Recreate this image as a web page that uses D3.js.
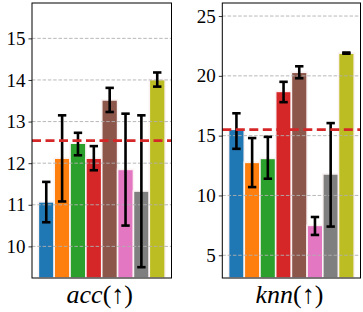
<!DOCTYPE html>
<html>
<head>
<meta charset="utf-8">
<script src="https://cdn.jsdelivr.net/npm/d3@7"></script>
<style>
  body { margin: 0; background: #fff; }
  svg { display: block; }
  text { font-family: "Liberation Serif", "DejaVu Serif", serif; }
</style>
</head>
<body>
<svg id="chart" width="363" height="312"></svg>
<script>
// bar colours (tab10 order)
const colors = ['#1f77b4', '#ff7f0e', '#2ca02c', '#d62728', '#8c564b', '#e377c2', '#7f7f7f', '#bcbd22'];

// acc panel
const accMean = [11.07, 12.12, 12.48, 12.12, 13.52, 11.85, 11.33, 14.01];
const accLow  = [10.58, 11.08, 12.19, 11.83, 13.23, 10.50, 9.50, 13.84];
const accHigh = [11.55, 13.15, 12.73, 12.41, 13.81, 13.19, 13.15, 14.18];
const accRef = 12.54;
const accTicks = [10, 11, 12, 13, 14, 15];

// knn panel
const knnMean = [15.53, 12.77, 13.10, 18.70, 20.30, 7.50, 11.80, 21.90];
const knnLow  = [13.90, 10.70, 11.40, 17.80, 19.80, 6.70, 7.40, 21.85];
const knnHigh = [16.87, 14.80, 14.90, 19.50, 20.80, 8.20, 16.05, 21.95];
const knnRef = 15.5;
const knnTicks = [5, 10, 15, 20, 25];

const svg = d3.select('#chart');

function panel() {
    function my(g) {
        const x0 = my.x0, x1 = my.x1, y0 = 3, y1 = 278;
        const mean = my.mean, low = my.low, high = my.high;

        const x = d3.scaleLinear().domain([-0.9, mean.length - 0.1]).range([x0, x1]);
        const y = d3.scaleLinear().domain(my.domain).range([y1, y0]);

        // bars
        g.append('g').selectAll('rect')
            .data(mean)
            .enter()
            .append('rect')
            .attr('x', function(d, i) { return x(i - 0.5); })
            .attr('width', x(1) - x(0))
            .attr('y', function(d) { return y(d); })
            .attr('height', function(d) { return y1 - y(d); })
            .attr('fill', function(d, i) { return colors[i]; })
            .attr('stroke', '#fbf3f3')
            .attr('stroke-width', 1.6);

        // grid, on top of bars
        g.append('g').selectAll('line')
            .data(my.ticks)
            .enter()
            .append('line')
            .attr('x1', x0).attr('x2', x1)
            .attr('y1', function(d) { return y(d); })
            .attr('y2', function(d) { return y(d); })
            .attr('stroke', '#b0b0b0')
            .attr('stroke-width', 0.9)
            .attr('stroke-dasharray', '3.5,1.8');

        // error bars
        const eb = g.append('g').selectAll('g')
            .data(mean)
            .enter()
            .append('g');
        eb.append('line')
            .attr('x1', function(d, i) { return x(i); })
            .attr('x2', function(d, i) { return x(i); })
            .attr('y1', function(d, i) { return y(low[i]); })
            .attr('y2', function(d, i) { return y(high[i]); })
            .attr('stroke', '#000').attr('stroke-width', 2.6);
        [low, high].forEach(function(arr) {
            eb.append('line')
                .attr('x1', function(d, i) { return x(i) - 4.2; })
                .attr('x2', function(d, i) { return x(i) + 4.2; })
                .attr('y1', function(d, i) { return y(arr[i]); })
                .attr('y2', function(d, i) { return y(arr[i]); })
                .attr('stroke', '#000').attr('stroke-width', 2.6);
        });

        // reference line
        g.append('line')
            .attr('x1', x0).attr('x2', x1)
            .attr('y1', y(my.ref)).attr('y2', y(my.ref))
            .attr('stroke', '#d62728')
            .attr('stroke-width', 2.8)
            .attr('stroke-dasharray', '9,4.5');

        // frame
        g.append('rect')
            .attr('x', x0).attr('y', y0)
            .attr('width', x1 - x0).attr('height', y1 - y0)
            .attr('fill', 'none').attr('stroke', '#000').attr('stroke-width', 1);

        // y axis
        const axis = g.append('g')
            .attr('transform', 'translate(' + x0 + ',0)')
            .call(d3.axisLeft(y).tickValues(my.ticks).tickSize(3.5).tickPadding(3).tickFormat(d3.format('d')));
        axis.select('.domain').remove();
        axis.selectAll('text').attr('font-size', 19).attr('fill', '#000')
            .style('font-family', '"Liberation Serif", "DejaVu Serif", serif');
        axis.selectAll('line').attr('stroke-width', 0.8);

        // x label
        g.append('text')
            .attr('x', (x0 + x1) / 2 - 2)
            .attr('y', 303)
            .attr('text-anchor', 'middle')
            .attr('font-size', 26)
            .attr('fill', '#000')
            .html('<tspan font-style="italic">' + my.label + '</tspan>(↑)');
    }
    return my;
}

const left = panel();
left.x0 = 32; left.x1 = 171.5;
left.mean = accMean; left.low = accLow; left.high = accHigh;
left.domain = [9.24, 15.85]; left.ticks = accTicks; left.ref = accRef; left.label = 'acc';
svg.append('g').call(left);

const right = panel();
right.x0 = 222.3; right.x1 = 360.5;
right.mean = knnMean; right.low = knnLow; right.high = knnHigh;
right.domain = [3.1, 26.09]; right.ticks = knnTicks; right.ref = knnRef; right.label = 'knn';
svg.append('g').call(right);
</script>
</body>
</html>
